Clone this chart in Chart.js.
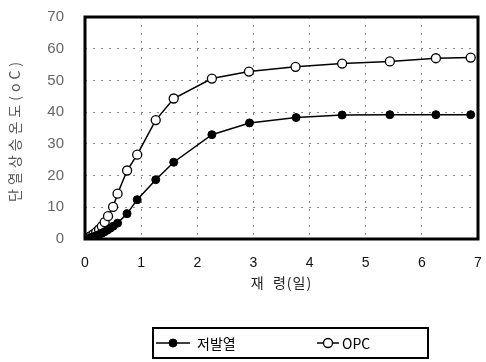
<!DOCTYPE html>
<html><head><meta charset="utf-8">
<script src="https://cdn.jsdelivr.net/npm/chart.js@4.4.0/dist/chart.umd.min.js"></script>
<style>html,body{margin:0;padding:0;background:#fff;}#wrap{width:486px;height:362px;}</style>
</head><body><div id="wrap"><canvas id="c" width="486" height="362"></canvas></div>
<script>
const seriesNames = ['저발열', 'OPC'];
const lowHeatDays = [0,0.05,0.1,0.15,0.2,0.25,0.3,0.35,0.4,0.45,0.5,0.58,0.75,0.93,1.26,1.58,2.26,2.93,3.76,4.58,5.43,6.25,6.87];
const lowHeatTemp = [0,0.2,0.4,0.7,1.0,1.4,1.8,2.3,2.8,3.4,4.0,5.0,8.0,12.4,18.7,24.2,32.9,36.6,38.3,39.1,39.2,39.2,39.2];
const opcDays = [0,0.05,0.1,0.15,0.2,0.25,0.3,0.35,0.41,0.5,0.58,0.75,0.93,1.26,1.58,2.26,2.92,3.75,4.58,5.43,6.25,6.87];
const opcTemp = [0,0.4,0.9,1.5,2.2,3.0,4.0,5.3,7.2,10.1,14.3,21.6,26.6,37.5,44.3,50.6,52.8,54.3,55.3,56.0,57.0,57.2];
const xTicks = [0,1,2,3,4,5,6,7];
const yTicks = [0,10,20,30,40,50,60,70];
const xTitle = '재  령(일)';
const yTitle = '단열상승온도(oC)';

const toPts = (xs, ys) => xs.map((x, i) => ({x: x, y: ys[i]}));

const framePlugin = {
  id: 'frame',
  afterDatasetsDraw(chart) {
    const {ctx, chartArea: a} = chart;
    ctx.save();
    ctx.strokeStyle = '#000';
    ctx.lineWidth = 3;
    ctx.strokeRect(a.left, a.top, a.right - a.left, a.bottom - a.top);
    ctx.restore();
  },
  afterDraw(chart) {
    const ctx = chart.ctx;
    const a = chart.chartArea;
    ctx.save();
    ctx.save();
    ctx.translate(15, (a.top + a.bottom) / 2 + 2);
    ctx.rotate(-Math.PI / 2);
    ctx.font = '14px "Noto Sans CJK KR", sans-serif';
    ctx.letterSpacing = '4px';
    ctx.fillStyle = '#555';
    ctx.textAlign = 'center';
    ctx.textBaseline = 'middle';
    ctx.fillText(yTitle, 0, 0);
    ctx.restore();
    ctx.save();
    ctx.font = '14px "Noto Sans CJK KR", sans-serif';
    ctx.letterSpacing = '1px';
    ctx.fillStyle = '#222';
    ctx.textAlign = 'center';
    ctx.textBaseline = 'middle';
    ctx.fillText(xTitle, (a.left + a.right) / 2, 283);
    ctx.restore();
    ctx.strokeStyle = '#000';
    ctx.lineWidth = 2;
    ctx.strokeRect(153, 328, 275, 30);
    const cy = 343;
    const items = [
      {ds: chart.data.datasets[0], x1: 156, x2: 190, tx: 197},
      {ds: chart.data.datasets[1], x1: 317, x2: 339, tx: 342}
    ];
    ctx.font = '14px "Noto Sans CJK KR", "DejaVu Sans", sans-serif';
    ctx.textBaseline = 'middle';
    ctx.fillStyle = '#000';
    items.forEach(it => {
      ctx.beginPath();
      ctx.lineWidth = 1.5;
      ctx.moveTo(it.x1, cy); ctx.lineTo(it.x2, cy); ctx.stroke();
      ctx.beginPath();
      ctx.arc((it.x1 + it.x2) / 2, cy, it.ds.pointRadius, 0, Math.PI * 2);
      ctx.fillStyle = it.ds.pointBackgroundColor;
      ctx.fill();
      ctx.lineWidth = it.ds.pointBorderWidth;
      ctx.stroke();
      ctx.fillStyle = '#000';
      ctx.fillText(it.ds.label, it.tx, cy + 1);
    });
    ctx.restore();
  }
};

new Chart(document.getElementById('c'), {
  type: 'line',
  data: {
    datasets: [
      {label: seriesNames[0], data: toPts(lowHeatDays, lowHeatTemp), borderColor: '#000', borderWidth: 1.5,
       pointRadius: 4, pointBackgroundColor: '#000', pointBorderColor: '#000', pointBorderWidth: 1, tension: 0},
      {label: seriesNames[1], data: toPts(opcDays, opcTemp), borderColor: '#000', borderWidth: 1.5,
       pointRadius: 4.5, pointBackgroundColor: '#fff', pointBorderColor: '#000', pointBorderWidth: 1.3, tension: 0}
    ]
  },
  options: {
    responsive: false,
    animation: false,
    layout: {padding: {top: 17, right: 8, bottom: 71, left: 0}},
    plugins: {legend: {display: false}, tooltip: {enabled: false}},
    scales: {
      x: {
        type: 'linear', min: 0, max: 7,
        afterBuildTicks: s => { s.ticks = xTicks.map(v => ({value: v})); },
        afterFit: s => { s.height = 52; },
        grid: {color: '#888', lineWidth: 1, drawTicks: true, tickLength: 12, tickColor: 'rgba(0,0,0,0)'},
        border: {display: false, dash: [2, 6]},
        ticks: {padding: 4, color: '#111', font: {size: 14, family: '"Liberation Sans", Arial, sans-serif'}},
        title: {display: false}
      },
      y: {
        type: 'linear', min: 0, max: 70,
        afterBuildTicks: s => { s.ticks = yTicks.map(v => ({value: v})); },
        afterFit: s => { s.width = 85; },
        grid: {color: '#888', lineWidth: 1, drawTicks: true, tickLength: 17, tickColor: 'rgba(0,0,0,0)'},
        border: {display: false, dash: [2, 6]},
        ticks: {padding: 4, color: '#666', font: {size: 15, family: '"Liberation Sans", Arial, sans-serif'}},
        title: {display: false}
      }
    }
  },
  plugins: [framePlugin]
});
</script></body></html>
